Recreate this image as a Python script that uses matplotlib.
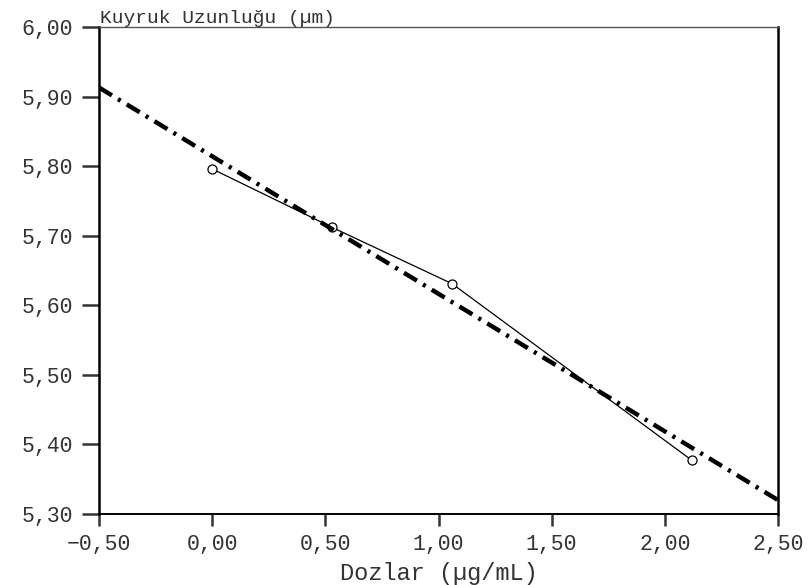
import matplotlib
matplotlib.use("Agg")
import matplotlib.pyplot as plt
from matplotlib.ticker import FixedLocator, FixedFormatter

# data
doses = [0.00, 0.53, 1.06, 2.12]
tail_length = [5.796, 5.712, 5.631, 5.377]
fit_x = [-0.50, 2.50]
fit_y = [5.913, 5.320]

x_ticks = [-0.50, 0.00, 0.50, 1.00, 1.50, 2.00, 2.50]
x_labels = ["\u22120,50", "0,00", "0,50", "1,00", "1,50", "2,00", "2,50"]
y_ticks = [5.30, 5.40, 5.50, 5.60, 5.70, 5.80, 5.90, 6.00]
y_labels = ["5,30", "5,40", "5,50", "5,60", "5,70", "5,80", "5,90", "6,00"]

title_text = "Kuyruk Uzunluğu (µm)"
xlabel_text = "Dozlar (µg/mL)"

plt.rcParams['font.family'] = ['Liberation Mono', 'DejaVu Sans Mono']

fig = plt.figure(figsize=(8.09, 5.85), dpi=100)
ax = fig.add_axes([99/809, 1 - 514/585, (778 - 99)/809, (514 - 27)/585])

ax.plot(doses, tail_length, color='black', lw=0.9, marker='o', ms=6.5,
        mfc='white', mec='black', mew=0.9, zorder=2, clip_on=False)
ax.plot(fit_x, fit_y, color='black', lw=3.2,
        linestyle=(0, (3.4, 1.6, 0.7, 1.6)), zorder=3,
        dash_capstyle='butt')

ax.set_xlim(-0.5, 2.5)
ax.set_ylim(5.30, 6.00)
ax.xaxis.set_major_locator(FixedLocator(x_ticks))
ax.xaxis.set_major_formatter(FixedFormatter(x_labels))
ax.yaxis.set_major_locator(FixedLocator(y_ticks))
ax.yaxis.set_major_formatter(FixedFormatter(y_labels))

ax.tick_params(axis='y', direction='out', length=12.5, width=1.8, pad=6,
               labelsize=15.5, colors='#333333')
ax.tick_params(axis='x', direction='out', length=8.5, width=1.8, pad=6,
               labelsize=15.5, colors='#333333')
for t in ax.get_xticklines() + ax.get_yticklines():
    t.set_color('black')

for side in ['left', 'right']:
    ax.spines[side].set_linewidth(1.8)
    ax.spines[side].set_color('black')
ax.spines['bottom'].set_linewidth(1.4)
ax.spines['bottom'].set_color('black')
ax.spines['top'].set_linewidth(1.0)
ax.spines['top'].set_color('#555555')

ax.text(0.002, 1.0, title_text, transform=ax.transAxes, ha='left', va='bottom',
        fontsize=14, color='#333333')
ax.set_xlabel(xlabel_text, fontsize=17, color='#333333', labelpad=5)

fig.savefig("out.png", dpi=100)
